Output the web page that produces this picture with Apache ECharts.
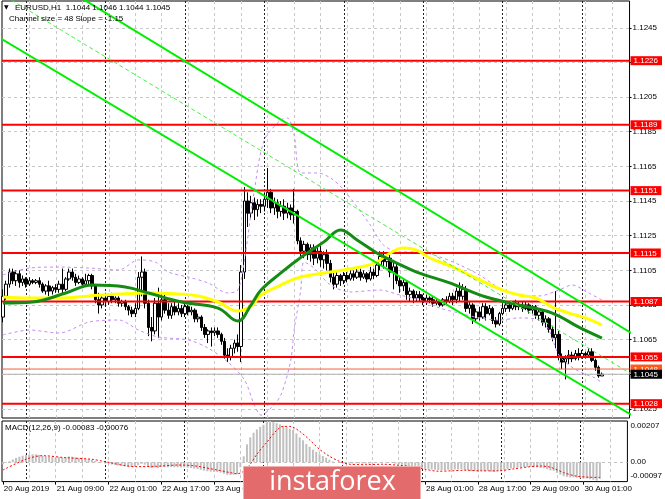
<!DOCTYPE html>
<html><head><meta charset="utf-8">
<script src="https://cdn.jsdelivr.net/npm/echarts@6/dist/echarts.min.js"></script>
<style>html,body{margin:0;padding:0;background:#fff}#c{width:665px;height:499px}</style>
</head><body><div id="c"></div>
<script>
// ---------- DATA ----------
// EURUSD H1 candles [open, close, low, high]; bar 0 = 20 Aug 17:00
const ohlc = [
[1.1078,1.1090,1.1075,1.1094],[1.1090,1.1097,1.1088,1.1099],[1.1097,1.1104,1.1095,1.1106],[1.1104,1.1099,1.1097,1.1106],
[1.1099,1.1103,1.1096,1.1105],[1.1103,1.1098,1.1095,1.1105],[1.1098,1.1100,1.1096,1.1102],[1.1100,1.1097,1.1095,1.1101],
[1.1097,1.1099,1.1096,1.1101],[1.1099,1.1098,1.1097,1.1100],[1.1098,1.1099,1.1097,1.1100],[1.1099,1.1097,1.1095,1.1101],
[1.1097,1.1093,1.1092,1.1098],[1.1093,1.1096,1.1091,1.1097],[1.1096,1.1093,1.1090,1.1099],[1.1093,1.1095,1.1091,1.1096],
[1.1095,1.1094,1.1092,1.1097],[1.1094,1.1097,1.1092,1.1099],[1.1097,1.1094,1.1091,1.1106],[1.1094,1.1100,1.1093,1.1101],
[1.1100,1.1104,1.1099,1.1106],[1.1104,1.1101,1.1099,1.1106],[1.1101,1.1098,1.1096,1.1103],[1.1098,1.1100,1.1097,1.1102],
[1.1100,1.1097,1.1095,1.1101],[1.1097,1.1099,1.1096,1.1103],[1.1099,1.1102,1.1097,1.1103],[1.1102,1.1096,1.1094,1.1103],
[1.1096,1.1088,1.1086,1.1097],[1.1088,1.1085,1.1080,1.1092],[1.1085,1.1089,1.1083,1.1091],[1.1089,1.1087,1.1084,1.1092],
[1.1087,1.1090,1.1085,1.1091],[1.1090,1.1088,1.1086,1.1092],[1.1088,1.1089,1.1086,1.1090],[1.1089,1.1086,1.1084,1.1090],
[1.1086,1.1087,1.1084,1.1088],[1.1087,1.1084,1.1082,1.1088],[1.1084,1.1082,1.1079,1.1085],[1.1082,1.1080,1.1078,1.1084],
[1.1080,1.1083,1.1078,1.1086],[1.1083,1.1101,1.1082,1.1104],[1.1101,1.1104,1.1090,1.1113],[1.1104,1.1086,1.1083,1.1106],
[1.1086,1.1072,1.1067,1.1088],[1.1072,1.1070,1.1064,1.1078],[1.1070,1.1086,1.1068,1.1089],[1.1086,1.1078,1.1066,1.1095],
[1.1078,1.1088,1.1076,1.1092],[1.1088,1.1082,1.1080,1.1091],[1.1082,1.1079,1.1077,1.1086],[1.1079,1.1084,1.1077,1.1086],
[1.1084,1.1081,1.1079,1.1087],[1.1081,1.1083,1.1079,1.1086],[1.1083,1.1080,1.1078,1.1085],[1.1080,1.1084,1.1078,1.1086],
[1.1084,1.1081,1.1079,1.1085],[1.1081,1.1082,1.1079,1.1084],[1.1082,1.1077,1.1075,1.1083],[1.1077,1.1078,1.1075,1.1080],
[1.1078,1.1072,1.1070,1.1079],[1.1072,1.1068,1.1066,1.1074],[1.1068,1.1070,1.1063,1.1071],[1.1070,1.1069,1.1061,1.1072],
[1.1069,1.1070,1.1067,1.1072],[1.1070,1.1068,1.1066,1.1072],[1.1068,1.1064,1.1062,1.1069],[1.1064,1.1056,1.1054,1.1066],
[1.1056,1.1055,1.1052,1.1060],[1.1055,1.1060,1.1053,1.1062],[1.1060,1.1063,1.1057,1.1065],[1.1063,1.1061,1.1058,1.1068],
[1.1061,1.1104,1.1052,1.1108],[1.1104,1.1145,1.1100,1.1153],[1.1145,1.1138,1.1130,1.1150],[1.1138,1.1144,1.1135,1.1148],
[1.1144,1.1140,1.1134,1.1147],[1.1140,1.1143,1.1136,1.1146],[1.1143,1.1142,1.1138,1.1146],[1.1142,1.1146,1.1139,1.1150],
[1.1146,1.1150,1.1141,1.1164],[1.1150,1.1141,1.1138,1.1152],[1.1141,1.1144,1.1137,1.1147],[1.1144,1.1139,1.1135,1.1146],
[1.1139,1.1142,1.1136,1.1145],[1.1142,1.1138,1.1134,1.1146],[1.1138,1.1141,1.1135,1.1144],[1.1141,1.1137,1.1134,1.1143],
[1.1137,1.1139,1.1132,1.1152],[1.1139,1.1122,1.1120,1.1140],[1.1122,1.1116,1.1113,1.1124],[1.1116,1.1120,1.1112,1.1122],
[1.1120,1.1114,1.1111,1.1121],[1.1114,1.1118,1.1110,1.1120],[1.1118,1.1112,1.1108,1.1120],[1.1112,1.1116,1.1109,1.1118],
[1.1116,1.1111,1.1107,1.1119],[1.1111,1.1114,1.1106,1.1116],[1.1114,1.1109,1.1105,1.1117],[1.1109,1.1101,1.1098,1.1111],
[1.1101,1.1097,1.1094,1.1104],[1.1097,1.1102,1.1095,1.1104],[1.1102,1.1099,1.1096,1.1103],[1.1099,1.1102,1.1097,1.1104],
[1.1102,1.1100,1.1098,1.1104],[1.1100,1.1103,1.1099,1.1105],[1.1103,1.1101,1.1099,1.1105],[1.1101,1.1104,1.1100,1.1106],
[1.1104,1.1101,1.1099,1.1106],[1.1101,1.1103,1.1100,1.1105],[1.1103,1.1100,1.1098,1.1104],[1.1100,1.1104,1.1099,1.1107],
[1.1104,1.1102,1.1100,1.1106],[1.1102,1.1108,1.1101,1.1110],[1.1108,1.1113,1.1105,1.1116],[1.1113,1.1110,1.1106,1.1116],
[1.1110,1.1112,1.1107,1.1115],[1.1112,1.1104,1.1101,1.1114],[1.1104,1.1107,1.1094,1.1111],[1.1107,1.1099,1.1097,1.1109],
[1.1099,1.1096,1.1092,1.1101],[1.1096,1.1098,1.1093,1.1100],[1.1098,1.1091,1.1088,1.1099],[1.1091,1.1093,1.1087,1.1095],
[1.1093,1.1089,1.1086,1.1094],[1.1089,1.1091,1.1087,1.1093],[1.1091,1.1089,1.1087,1.1093],[1.1089,1.1087,1.1085,1.1091],
[1.1087,1.1089,1.1085,1.1091],[1.1089,1.1088,1.1086,1.1090],[1.1088,1.1086,1.1084,1.1090],[1.1086,1.1087,1.1085,1.1089],
[1.1087,1.1085,1.1084,1.1088],[1.1085,1.1088,1.1084,1.1089],[1.1088,1.1087,1.1085,1.1090],[1.1087,1.1090,1.1086,1.1092],
[1.1090,1.1088,1.1085,1.1092],[1.1088,1.1093,1.1086,1.1095],[1.1093,1.1090,1.1087,1.1098],[1.1090,1.1094,1.1088,1.1097],
[1.1094,1.1083,1.1081,1.1096],[1.1083,1.1085,1.1080,1.1087],[1.1085,1.1077,1.1074,1.1086],[1.1077,1.1081,1.1075,1.1083],
[1.1081,1.1078,1.1076,1.1084],[1.1078,1.1084,1.1077,1.1086],[1.1084,1.1080,1.1076,1.1086],[1.1080,1.1083,1.1079,1.1085],
[1.1083,1.1076,1.1074,1.1084],[1.1076,1.1074,1.1072,1.1078],[1.1074,1.1080,1.1073,1.1081],[1.1080,1.1083,1.1079,1.1086],
[1.1083,1.1085,1.1081,1.1087],[1.1085,1.1083,1.1081,1.1087],[1.1083,1.1086,1.1082,1.1087],[1.1086,1.1084,1.1082,1.1088],
[1.1084,1.1085,1.1082,1.1087],[1.1085,1.1083,1.1081,1.1087],[1.1083,1.1085,1.1082,1.1087],[1.1085,1.1082,1.1080,1.1086],
[1.1082,1.1084,1.1080,1.1085],[1.1084,1.1079,1.1077,1.1085],[1.1079,1.1081,1.1076,1.1083],[1.1081,1.1075,1.1073,1.1082],
[1.1075,1.1077,1.1072,1.1079],[1.1077,1.1071,1.1069,1.1078],[1.1071,1.1066,1.1064,1.1073],[1.1066,1.1068,1.1060,1.1093],
[1.1068,1.1055,1.1053,1.1070],[1.1055,1.1052,1.1048,1.1057],[1.1052,1.1054,1.1042,1.1056],[1.1054,1.1056,1.1051,1.1059],
[1.1056,1.1054,1.1052,1.1058],[1.1054,1.1057,1.1053,1.1059],[1.1057,1.1055,1.1053,1.1060],[1.1055,1.1057,1.1054,1.1059],
[1.1057,1.1056,1.1054,1.1058],[1.1056,1.1058,1.1055,1.1060],[1.1058,1.1053,1.1052,1.1060],[1.1053,1.1049,1.1047,1.1054],
[1.1049,1.1044,1.1043,1.1050],[1.1044,1.1045,1.1044,1.1046]
];

// Moving averages, read at selected bars (bar index, price)
const maYellowIdx = [0,8,17,26,35,44,53,59,65,71,75,78,84,89,99,108,113,117,121,125,129,136,141,146,151,156,161,166,171,176,181];
const maYellowVal = [1.10896,1.10890,1.10890,1.10902,1.10913,1.10919,1.10913,1.10902,1.10867,1.10815,1.10844,1.10907,1.10965,1.11006,1.11040,1.11069,1.11098,1.11150,1.11179,1.11167,1.11121,1.11069,1.11023,1.10977,1.10936,1.10907,1.10890,1.10838,1.10803,1.10775,1.10734];
const maGreenIdx = [0,9,19,27,37,44,54,65,71,75,78,84,89,97,102,107,113,119,125,135,146,156,166,174,181];
const maGreenVal = [1.10861,1.10867,1.10919,1.10965,1.10954,1.10919,1.10867,1.10832,1.10757,1.10850,1.10936,1.11035,1.11110,1.11214,1.11283,1.11225,1.11150,1.11092,1.11040,1.10977,1.10896,1.10850,1.10803,1.10722,1.10659];

// Bollinger bands
const bbUpIdx = [0,8,17,26,35,41,46,50,56,62,68,71,73,76,79,84,86,88,90,95,99,103,111,115,120,126,132,138,144,150,156,162,168,172,177,181];
const bbUpVal = [1.11023,1.11063,1.11069,1.11063,1.11052,1.11110,1.11098,1.11040,1.11011,1.10977,1.10919,1.10936,1.11110,1.11514,1.11802,1.11918,1.11929,1.11831,1.11612,1.11612,1.11583,1.11514,1.11312,1.11196,1.11156,1.11156,1.11127,1.11081,1.11023,1.10948,1.10907,1.10902,1.10936,1.10965,1.10919,1.10879];
const bbLoIdx = [0,8,17,26,35,41,47,56,62,68,73,76,78,81,84,87,88,90,91,94,99,105,114,120,126,132,138,144,150,156,162,165,168,172,176,179,181];
const bbLoVal = [1.10677,1.10705,1.10688,1.10751,1.10763,1.10705,1.10665,1.10648,1.10601,1.10520,1.10417,1.10272,1.10214,1.10255,1.10330,1.10532,1.10705,1.10936,1.11098,1.11063,1.10965,1.10925,1.10936,1.10907,1.10879,1.10832,1.10803,1.10775,1.10763,1.10775,1.10763,1.10705,1.10560,1.10490,1.10450,1.10428,1.10400];

// Regression channel (values at bar -1 and bar 190)
const channelIdx = [-1, 190];
const channelUpper = [1.12909, 1.10686];
const channelMid = [1.12651, 1.10450];
const channelLower = [1.12392, 1.10214];

// Horizontal levels
const levels = [1.1226, 1.1189, 1.1151, 1.1115, 1.1087, 1.1055, 1.1028];
const askPrice = 1.1048;
const bidPrice = 1.1045;
const priceTicks = [1.1025,1.1045,1.1065,1.1085,1.1105,1.1125,1.1145,1.1165,1.1185,1.1205,1.1225,1.1245];

// MACD(12,26,9)
const macdHist = [
-0.00010,-0.00004,0.00005,0.00014,0.00022,0.00028,0.00033,0.00036,0.00039,0.00040,
0.00040,0.00037,0.00032,0.00030,0.00027,0.00026,0.00025,0.00026,0.00024,0.00026,
0.00029,0.00028,0.00025,0.00022,0.00019,0.00016,0.00015,0.00012,0.00007,0.00001,
-0.00002,-0.00006,-0.00008,-0.00011,-0.00013,-0.00016,-0.00018,-0.00020,-0.00022,-0.00024,
-0.00023,-0.00014,-0.00008,-0.00012,-0.00022,-0.00030,-0.00027,-0.00029,-0.00024,-0.00024,
-0.00025,-0.00024,-0.00025,-0.00025,-0.00026,-0.00025,-0.00027,-0.00029,-0.00032,-0.00034,
-0.00038,-0.00042,-0.00045,-0.00047,-0.00048,-0.00049,-0.00052,-0.00058,-0.00063,-0.00064,
-0.00062,-0.00060,-0.00025,0.00030,0.00090,0.00125,0.00148,0.00165,0.00178,0.00188,
0.00200,0.00207,0.00201,0.00196,0.00190,0.00182,0.00176,0.00168,0.00162,0.00145,
0.00125,0.00110,0.00092,0.00078,0.00063,0.00052,0.00040,0.00032,0.00023,0.00013,
0.00004,0.00000,-0.00003,-0.00004,-0.00005,-0.00005,-0.00006,-0.00005,-0.00006,-0.00006,
-0.00007,-0.00006,-0.00006,-0.00003,0.00001,0.00002,0.00002,-0.00002,-0.00003,-0.00007,
-0.00011,-0.00013,-0.00018,-0.00019,-0.00023,-0.00024,-0.00026,-0.00028,-0.00031,-0.00033,
-0.00036,-0.00037,-0.00039,-0.00039,-0.00040,-0.00038,-0.00039,-0.00036,-0.00036,-0.00033,
-0.00039,-0.00040,-0.00045,-0.00045,-0.00047,-0.00044,-0.00045,-0.00043,-0.00047,-0.00049,
-0.00045,-0.00041,-0.00037,-0.00035,-0.00031,-0.00029,-0.00027,-0.00026,-0.00024,-0.00024,
-0.00022,-0.00025,-0.00025,-0.00029,-0.00030,-0.00035,-0.00041,-0.00043,-0.00053,-0.00062,
-0.00070,-0.00073,-0.00076,-0.00076,-0.00077,-0.00080,-0.00082,-0.00082,-0.00085,-0.00088,
-0.00092,-0.00083
];
const signalIdx = [0,7,12,19,27,31,40,47,53,58,65,69,71,73,75,77,80,83,85,87,90,93,96,99,102,105,110,115,120,124,128,132,136,140,145,150,155,160,163,166,170,174,178,181];
const signalVal = [-0.00039,0.00015,0.00033,0.00023,0.00015,0.00003,-0.00022,-0.00020,-0.00014,-0.00018,-0.00039,-0.00052,-0.00058,-0.00045,-0.00010,0.00040,0.00100,0.00160,0.00180,0.00180,0.00155,0.00112,0.00065,0.00030,0.00005,-0.00010,-0.00012,-0.00010,-0.00015,-0.00022,-0.00035,-0.00045,-0.00043,-0.00040,-0.00043,-0.00043,-0.00033,-0.00022,-0.00019,-0.00025,-0.00052,-0.00070,-0.00075,-0.00076];
const macdTicks = [-0.00097, 0, 0.00207];

// Time scale
const timeLabelIdx = [0,16,32,48,64,80,96,112,128,144,160,176];
const timeLabels = ['20 Aug 2019','21 Aug 09:00','22 Aug 01:00','22 Aug 17:00','23 Aug 09:00','26 Aug 01:00','26 Aug 17:00','27 Aug 09:00','28 Aug 01:00','28 Aug 17:00','29 Aug 09:00','30 Aug 01:00'];
const gridIdx = [8,16,24,32,40,48,56,64,72,80,88,96,104,112,120,128,136,144,152,160,168,176,184];
const daySepIdx = [7,31,55,79,103,127,151,175];

// ---------- CHART ----------
const FONT = 'Liberation Sans';
const X_MIN = -0.265, X_MAX = 189.34;
const Y_MIN = 1.101974, Y_MAX = 1.126046;
const pair = (idx, val) => idx.map((x, k) => [x, val[k]]);

function xAxisBase(gridIndex, custom, lineStyle) {
  return {
    type: 'value', gridIndex, min: X_MIN, max: X_MAX,
    axisLine: { show: false, onZero: false },
    axisTick: { show: false, customValues: custom },
    axisLabel: { show: false },
    splitLine: { show: true, lineStyle }
  };
}
const lightGrid = { color: '#c8c8c8', type: [3, 3], width: 1 };
const darkSep = { color: '#222', type: [2, 2], width: 1 };
const boxLabel = (bg) => ({ backgroundColor: bg, color: '#fff', fontSize: 8, padding: [1, 4, 0, 3], fontFamily: FONT });

function levelAxis(vals, style) {
  return {
    type: 'value', gridIndex: 0, position: 'right', min: Y_MIN, max: Y_MAX,
    axisLine: { show: false, onZero: false },
    axisTick: { show: false, customValues: vals },
    splitLine: { show: false },
    axisLabel: {
      customValues: vals, margin: 1, fontSize: 8, fontFamily: FONT, hideOverlap: false,
      formatter: v => '{s|' + v.toFixed(4) + '}',
      rich: { s: style }
    }
  };
}
function hLine(v, color, width) {
  return { type: 'line', xAxisIndex: 0, yAxisIndex: 0, z: 4, silent: true, showSymbol: false,
    data: [[X_MIN, v], [X_MAX, v]], lineStyle: { color, width } };
}

const chart = echarts.init(document.getElementById('c'), null, { renderer: 'canvas' });

chart.setOption({
  animation: false,
  backgroundColor: '#fff',
  textStyle: { fontFamily: FONT },
  grid: [
    { left: 2, top: 1, width: 629.5, height: 417, show: true, borderColor: '#000', borderWidth: 1, backgroundColor: 'transparent' },
    { left: 2, top: 421, width: 629.5, height: 60.6, show: true, borderColor: '#000', borderWidth: 1, backgroundColor: 'transparent' }
  ],
  xAxis: [
    xAxisBase(0, gridIdx, lightGrid),
    xAxisBase(0, daySepIdx, darkSep),
    xAxisBase(1, gridIdx, lightGrid),
    xAxisBase(1, daySepIdx, darkSep),
    {
      type: 'value', gridIndex: 1, min: X_MIN, max: X_MAX, position: 'bottom',
      axisLine: { show: false, onZero: false },
      axisTick: { show: true, customValues: timeLabelIdx, length: 3, lineStyle: { color: '#000' } },
      axisLabel: {
        customValues: timeLabelIdx, align: 'left', margin: 3, fontSize: 8, color: '#000', fontFamily: FONT,
        padding: [0, 0, 0, 1],
        formatter: v => timeLabels[timeLabelIdx.indexOf(Math.round(v))] || ''
      },
      splitLine: { show: false }
    }
  ],
  yAxis: [
    {
      type: 'value', gridIndex: 0, position: 'right', min: Y_MIN, max: Y_MAX,
      axisLine: { show: false, onZero: false },
      axisTick: { show: true, customValues: priceTicks, length: 2, lineStyle: { color: '#000' } },
      axisLabel: { customValues: priceTicks, margin: 3, fontSize: 8, color: '#000', fontFamily: FONT, formatter: v => v.toFixed(4) },
      splitLine: { show: true, lineStyle: lightGrid }
    },
    levelAxis(levels, boxLabel('#ff0000')),
    levelAxis([askPrice], boxLabel('#ff5a1e')),
    levelAxis([bidPrice], boxLabel('#000000')),
    {
      type: 'value', gridIndex: 1, position: 'right', min: -0.00097, max: 0.00207,
      axisLine: { show: false, onZero: false },
      axisTick: { show: false, customValues: [0] },
      splitLine: { show: true, lineStyle: { color: '#c0c0c0', type: [3, 3] } },
      axisLabel: {
        customValues: macdTicks, margin: 3, fontSize: 8, color: '#000', fontFamily: FONT,
        formatter: v => {
          if (v > 0.001) return '{t|' + v.toFixed(5) + '}';
          if (v < -0.0005) return '{b|' + v.toFixed(5) + '}';
          return '{m|0.00}';
        },
        rich: {
          t: { padding: [9, 0, 0, 0], fontSize: 8, color: '#000' },
          b: { padding: [0, 0, 12, 0], fontSize: 8, color: '#000' },
          m: { fontSize: 8, color: '#000' }
        }
      }
    }
  ],
  series: [
    {
      type: 'candlestick', xAxisIndex: 0, yAxisIndex: 0, z: 2,
      data: ohlc.map((b, i) => [i, b[0], b[1], b[2], b[3]]),
      barWidth: 3,
      itemStyle: { color: '#fff', color0: '#000', borderColor: '#000', borderColor0: '#000', borderWidth: 1 }
    },
    ...levels.map(v => hLine(v, '#ff0000', 2)),
    hLine(askPrice, '#f0603c', 1),
    hLine(bidPrice, '#b0b0b0', 1),
    { type: 'line', xAxisIndex: 0, yAxisIndex: 0, z: 3, data: pair(bbUpIdx, bbUpVal), showSymbol: false, smooth: 0.3,
      lineStyle: { color: '#c58cf5', width: 1, type: [3, 3] } },
    { type: 'line', xAxisIndex: 0, yAxisIndex: 0, z: 3, data: pair(bbLoIdx, bbLoVal), showSymbol: false, smooth: 0.3,
      lineStyle: { color: '#c58cf5', width: 1, type: [3, 3] } },
    { type: 'line', xAxisIndex: 0, yAxisIndex: 0, z: 5, data: pair(maYellowIdx, maYellowVal), showSymbol: false, smooth: 0.4,
      lineStyle: { color: '#ffff00', width: 3 } },
    { type: 'line', xAxisIndex: 0, yAxisIndex: 0, z: 5, data: pair(maGreenIdx, maGreenVal), showSymbol: false, smooth: 0.4,
      lineStyle: { color: '#148c14', width: 3 } },
    { type: 'line', xAxisIndex: 0, yAxisIndex: 0, z: 6, data: pair(channelIdx, channelUpper), showSymbol: false,
      lineStyle: { color: '#00ee00', width: 2 } },
    { type: 'line', xAxisIndex: 0, yAxisIndex: 0, z: 6, data: pair(channelIdx, channelLower), showSymbol: false,
      lineStyle: { color: '#00ee00', width: 2 } },
    { type: 'line', xAxisIndex: 0, yAxisIndex: 0, z: 6, data: pair(channelIdx, channelMid), showSymbol: false,
      lineStyle: { color: '#44ee44', width: 1, type: [4, 3] } },
    { type: 'bar', xAxisIndex: 2, yAxisIndex: 4, z: 2, barWidth: 2,
      data: macdHist.map((v, i) => [i, v]), itemStyle: { color: '#c0c0c0' } },
    { type: 'line', xAxisIndex: 2, yAxisIndex: 4, z: 3, data: pair(signalIdx, signalVal), showSymbol: false, smooth: 0.3,
      lineStyle: { color: '#ff0000', width: 1, type: [2, 2] } }
  ],
  graphic: [
    { type: 'text', left: 4, top: 4, z: 100, style: { text: '\u25BC', fontSize: 6, fill: '#000', fontFamily: 'DejaVu Sans' } },
    { type: 'text', left: 15, top: 4, z: 100, style: { text: 'EURUSD,H1  1.1044 1.1046 1.1044 1.1045', fontSize: 8, fill: '#000', fontFamily: FONT } },
    { type: 'text', left: 9, top: 15, z: 100, style: { text: 'Channel size = 48 Slope = -1.15', fontSize: 8, fill: '#000', fontFamily: FONT } },
    { type: 'text', left: 5, top: 424, z: 100, style: { text: 'MACD(12,26,9) -0.00083 -0.00076', fontSize: 8, fill: '#000', fontFamily: FONT } },
    { type: 'rect', left: 243, top: 466, z: 200, shape: { width: 177, height: 34 },
      style: { fill: '#e36b6b', stroke: '#f3b0b0', lineWidth: 1 } },
    { type: 'text', left: 'center', top: 469, z: 201,
      style: { text: 'instaforex', fontSize: 27, fill: '#fff', fontFamily: 'Open Sans' } }
  ]
});
</script></body></html>
